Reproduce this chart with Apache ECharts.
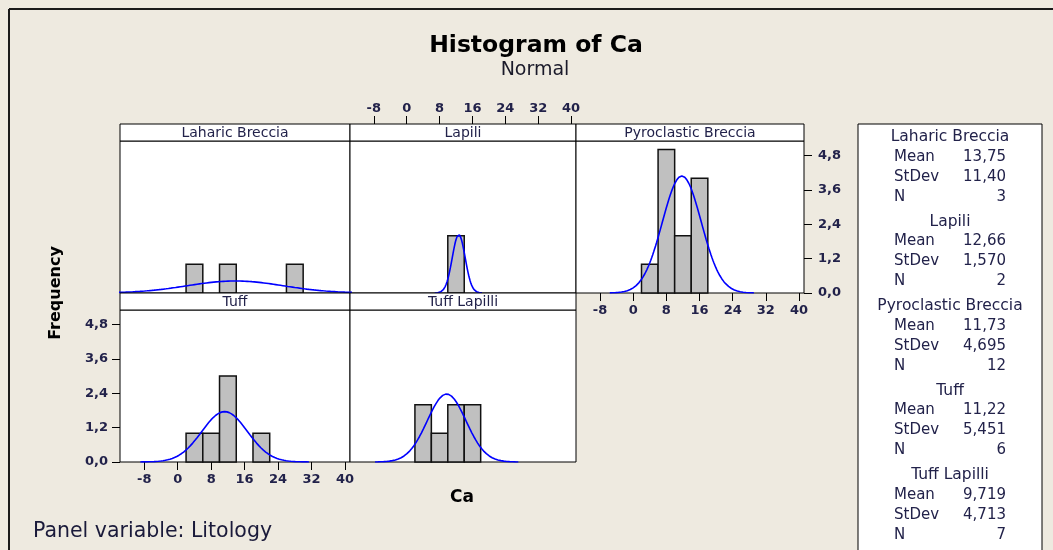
<!DOCTYPE html>
<html><head><meta charset="utf-8">
<script src="https://cdn.jsdelivr.net/npm/echarts@6/dist/echarts.min.js"></script>
<style>html,body{margin:0;padding:0;background:#EEEAE0;} #c{width:1053px;height:550px;}</style>
</head><body><div id="c"></div>
<script>
// ---------- data ----------
const litology = ['Laharic Breccia', 'Lapili', 'Pyroclastic Breccia', 'Tuff', 'Tuff Lapilli'];
const binStarts = [2, 6, 10, 14, 18, 22, 26];
const binWidth = 4;
const laharicCounts = [1, 0, 1, 0, 0, 0, 1];
const lapiliCounts = [0, 0, 2, 0, 0, 0, 0];
const pyroclasticCounts = [1, 5, 2, 4, 0, 0, 0];
const tuffCounts = [1, 1, 3, 0, 1, 0, 0];
const tuffLapilliCounts = [2, 1, 2, 2, 0, 0, 0];
const means = [13.75, 12.66, 11.73, 11.22, 9.719];
const stdevs = [11.40, 1.570, 4.695, 5.451, 4.713];
const ns = [3, 2, 12, 6, 7];
const xTicks = [-8, 0, 8, 16, 24, 32, 40];
const yTicks = [0, 1.2, 2.4, 3.6, 4.8];

const countsByPanel = [laharicCounts, lapiliCounts, pyroclasticCounts, tuffCounts, tuffLapilliCounts];

// ---------- layout ----------
const FONT = 'DejaVu Sans';
const TXT = '#22224a';
const cols = [{ left: 120, width: 230 }, { left: 350, width: 226 }, { left: 576, width: 228 }];
const rows = [{ top: 141, height: 152 }, { top: 310, height: 152 }];
const cells = [[0, 0], [0, 1], [0, 2], [1, 0], [1, 1]];
const axisShow = [[null, null], ['top', null], ['bottom', 'right'], ['bottom', 'left'], [null, null]];
const HEAD = 17;
const TICK = 8;

// fitted normal curve (scaled to counts) from the displayed Mean/StDev/N
function normalCurve(i) {
  const m = means[i], s = stdevs[i], n = ns[i];
  const pts = [];
  for (let k = -74; k <= 74; k++) {
    const x = m + k * s / 20;
    const y = n * binWidth * Math.exp(-0.5 * (x - m) * (x - m) / (s * s)) / (s * Math.sqrt(2 * Math.PI));
    pts.push([x, y]);
  }
  return pts;
}

const grids = [], xAxes = [], yAxes = [], series = [], graphics = [];

graphics.push({ type: 'line', shape: { x1: 9, y1: 9, x2: 1053, y2: 9 }, style: { stroke: '#1a1a1a', lineWidth: 2 } });
graphics.push({ type: 'line', shape: { x1: 9, y1: 9, x2: 9, y2: 550 }, style: { stroke: '#1a1a1a', lineWidth: 2 } });

litology.forEach((name, i) => {
  const [r, c] = cells[i];
  const g = { left: cols[c].left, width: cols[c].width, top: rows[r].top, height: rows[r].height };
  grids.push(Object.assign({ show: true, backgroundColor: '#fff', borderColor: '#000', borderWidth: 1, containLabel: false }, g));
  const [xp, yp] = axisShow[i];
  xAxes.push({
    gridIndex: i, type: 'value', min: -13.8, max: 41.2, position: xp || 'bottom',
    offset: xp === 'top' ? HEAD : 0,
    axisLine: { show: false, onZero: false }, splitLine: { show: false },
    axisTick: { show: !!xp, length: TICK, inside: false, customValues: xTicks, lineStyle: { color: '#000', width: 1 } },
    axisLabel: { show: !!xp, customValues: xTicks, margin: TICK + (xp === 'top' ? 1 : 3), fontFamily: FONT, fontSize: 13, fontWeight: 'bold', color: TXT }
  });
  yAxes.push({
    gridIndex: i, type: 'value', min: 0, max: 5.3, position: yp || 'left',
    axisLine: { show: false, onZero: false }, splitLine: { show: false },
    axisTick: { show: !!yp, length: TICK, inside: false, customValues: yTicks, lineStyle: { color: '#000', width: 1 } },
    axisLabel: { show: !!yp, customValues: yTicks, margin: TICK + (yp === 'right' ? 6 : 4), fontFamily: FONT, fontSize: 13, fontWeight: 'bold', color: TXT,
      formatter: v => v.toFixed(1).replace('.', ',') }
  });
  series.push({
    type: 'custom', xAxisIndex: i, yAxisIndex: i, z: 2,
    data: binStarts.map((b, j) => [b, b + binWidth, countsByPanel[i][j]]).filter(d => d[2] > 0),
    renderItem: (params, api) => {
      const p0 = api.coord([api.value(0), 0]);
      const p1 = api.coord([api.value(1), api.value(2)]);
      return { type: 'rect', shape: { x: p0[0], y: p1[1], width: p1[0] - p0[0], height: p0[1] - p1[1] },
        style: { fill: '#C0C0C0', stroke: '#111', lineWidth: 1.5 } };
    }
  });
  series.push({
    type: 'line', xAxisIndex: i, yAxisIndex: i, z: 3, data: normalCurve(i), showSymbol: false, clip: true,
    lineStyle: { color: '#0000FF', width: 1.6 }, silent: true
  });
  graphics.push({ type: 'rect', z: 5, shape: { x: g.left, y: g.top - HEAD, width: g.width, height: HEAD },
    style: { fill: '#fff', stroke: '#000', lineWidth: 1 } });
  graphics.push({ type: 'text', z: 6, x: g.left + g.width / 2, y: g.top - HEAD / 2 + 0.5,
    style: { text: name, fontFamily: FONT, fontSize: 14, fill: TXT, align: 'center', verticalAlign: 'middle' } });
});

graphics.push({ type: 'text', x: 536, y: 46, style: { text: 'Histogram of Ca', fontFamily: FONT, fontSize: 23.5, fontWeight: 'bold', fill: '#000', align: 'center', verticalAlign: 'middle' } });
graphics.push({ type: 'text', x: 535, y: 70, style: { text: 'Normal', fontFamily: FONT, fontSize: 19, fill: '#1a1a2a', align: 'center', verticalAlign: 'middle' } });
graphics.push({ type: 'text', x: 56, y: 293, rotation: Math.PI / 2, style: { text: 'Frequency', fontFamily: FONT, fontSize: 16, fontWeight: 'bold', fill: '#000', align: 'center', verticalAlign: 'middle' } });
graphics.push({ type: 'text', x: 462, y: 498, style: { text: 'Ca', fontFamily: FONT, fontSize: 17, fontWeight: 'bold', fill: '#000', align: 'center', verticalAlign: 'middle' } });
graphics.push({ type: 'text', x: 33, y: 532, style: { text: 'Panel variable: Litology', fontFamily: FONT, fontSize: 20.5, fill: '#1a1a3a', align: 'left', verticalAlign: 'middle' } });

graphics.push({ type: 'rect', shape: { x: 858, y: 124, width: 184, height: 440 }, style: { fill: '#fff', stroke: '#000', lineWidth: 1 } });
const fmt = v => v.toPrecision(4).replace('.', ',');
litology.forEach((name, i) => {
  const y0 = 137 + 84.5 * i;
  graphics.push({ type: 'text', x: 950, y: y0, style: { text: name, fontFamily: FONT, fontSize: 15.5, fill: TXT, align: 'center', verticalAlign: 'middle' } });
  const rowsTxt = [['Mean', fmt(means[i])], ['StDev', fmt(stdevs[i])], ['N', String(ns[i])]];
  rowsTxt.forEach((rt, k) => {
    const yy = y0 + 20 * (k + 1);
    graphics.push({ type: 'text', x: 894, y: yy, style: { text: rt[0], fontFamily: FONT, fontSize: 15, fill: TXT, align: 'left', verticalAlign: 'middle' } });
    graphics.push({ type: 'text', x: 1006, y: yy, style: { text: rt[1], fontFamily: FONT, fontSize: 15, fill: TXT, align: 'right', verticalAlign: 'middle' } });
  });
});

const chart = echarts.init(document.getElementById('c'), null, { renderer: 'canvas' });
chart.setOption({
  backgroundColor: '#EEEAE0',
  animation: false,
  grid: grids, xAxis: xAxes, yAxis: yAxes, series: series,
  graphic: { elements: graphics }
});
</script></body></html>
